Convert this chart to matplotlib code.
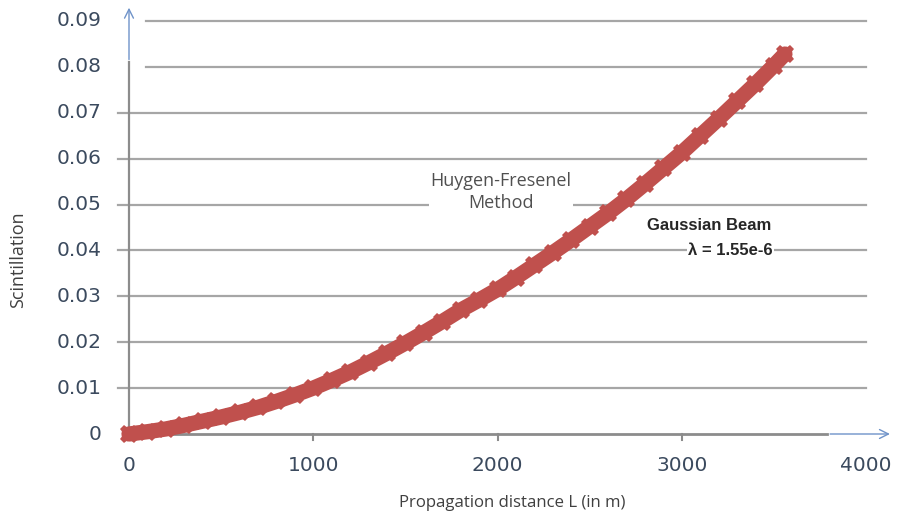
import numpy as np
import matplotlib
matplotlib.use("Agg")
import matplotlib.pyplot as plt

# propagation distance (m) and scintillation index of the gaussian beam
distance = [0, 100, 200, 300, 400, 500, 600, 700, 800, 900,
            1000, 1100, 1200, 1300, 1400, 1500, 1600, 1700, 1800, 1900,
            2000, 2100, 2200, 2300, 2400, 2500, 2600, 2700, 2800, 2900,
            3000, 3100, 3200, 3300, 3400, 3500, 3560]
scintillation = [0.0000, 0.0005, 0.0011, 0.0019, 0.0028, 0.0037, 0.0047, 0.0058, 0.0071, 0.0085,
                 0.0100, 0.0117, 0.0135, 0.0155, 0.0176, 0.0198, 0.0221, 0.0245, 0.0270, 0.0292,
                 0.0315, 0.0341, 0.0368, 0.0395, 0.0423, 0.0452, 0.0481, 0.0512, 0.0545, 0.0579,
                 0.0613, 0.0650, 0.0687, 0.0725, 0.0763, 0.0803, 0.0828]

x_ticks = [0, 1000, 2000, 3000, 4000]
y_ticks = [0, 0.01, 0.02, 0.03, 0.04, 0.05, 0.06, 0.07, 0.08, 0.09]

RED = "#C0504D"
GRID = "#A6A6A6"
AXIS = "#8C8C8C"
LABEL = "#3B4A5E"

fig = plt.figure(figsize=(8.99, 5.19), dpi=100)
W, H = 899, 519
# axes box in pixels: left 118 .. right 866, bottom 434 .. top 21
ax = fig.add_axes([118 / W, 1 - 434 / H, (866 - 118) / W, (434 - 21) / H])
xpx = (866 - 129) / 4000  # pixels per metre
x0 = -(129 - 118) / xpx
ax.set_xlim(x0, 4000)
ax.set_ylim(0, 0.09)
for s in ax.spines.values():
    s.set_visible(False)
ax.set_xticks([])
ax.set_yticks([])

# horizontal gridlines (top two start right of the axis arrow)
for v in y_ticks[1:]:
    start = 92 if v >= 0.08 else x0
    ax.plot([start, 4000], [v, v], color=GRID, lw=1.6, zorder=1, clip_on=False)

# axes drawn as lines with arrows
ax.plot([0, 3790], [0, 0], color=AXIS, lw=2, zorder=2, clip_on=False)
ax.annotate("", xy=(4145, 0), xytext=(3790, 0),
            arrowprops=dict(arrowstyle="->", color="#6F93C9", lw=1, mutation_scale=16),
            annotation_clip=False, zorder=2)
ax.plot([0, 0], [0, 0.081], color=AXIS, lw=1.6, zorder=2, clip_on=False)
ax.annotate("", xy=(0, 0.0935), xytext=(0, 0.081),
            arrowprops=dict(arrowstyle="->", color="#6F93C9", lw=1, mutation_scale=16),
            annotation_clip=False, zorder=2)
for t in x_ticks[1:-1]:
    ax.plot([t, t], [0, -0.0012], color=AXIS, lw=1.5, clip_on=False, zorder=2)

# tick labels
for t in x_ticks:
    ax.text(t, -0.0068, str(t), ha="center", va="center", fontsize=14.5,
            color=LABEL, fontfamily="DejaVu Sans")
for v in y_ticks:
    lab = "0" if v == 0 else f"{v:.2f}"
    ax.text(x0 - 90, v, lab, ha="right", va="center", fontsize=14.5,
            color=LABEL, fontfamily="DejaVu Sans")

ax.plot(distance, scintillation, color=RED, lw=11, solid_capstyle="round", zorder=3,
        marker="X", markersize=13, markeredgewidth=0, clip_on=False)

fig.text(18 / W, 1 - 260 / H, "Scintillation", rotation=90, ha="center", va="center",
         fontsize=13, color="#404040", fontfamily="Open Sans")
fig.text(512 / W, 1 - 503 / H, "Propagation distance L (in m)", ha="center", va="center",
         fontsize=12.1, color="#404040", fontfamily="Open Sans")

ax.text(2020, 0.0527, "Huygen-Fresenel\nMethod", ha="center", va="center", fontsize=13,
        color="#505050", fontfamily="Open Sans", linespacing=1.3,
        bbox=dict(facecolor="white", edgecolor="none", pad=1), zorder=4)
ax.text(3150, 0.0455, "Gaussian Beam", ha="center", va="center", fontsize=12,
        fontweight="bold", color="#262626", fontfamily="Liberation Sans", zorder=4)
ax.text(3265, 0.0400, "λ = 1.55e-6", ha="center", va="center", fontsize=12,
        fontweight="bold", color="#262626", fontfamily="Liberation Sans",
        bbox=dict(facecolor="white", edgecolor="none", pad=1), zorder=4)

fig.savefig("out.png", dpi=100)
